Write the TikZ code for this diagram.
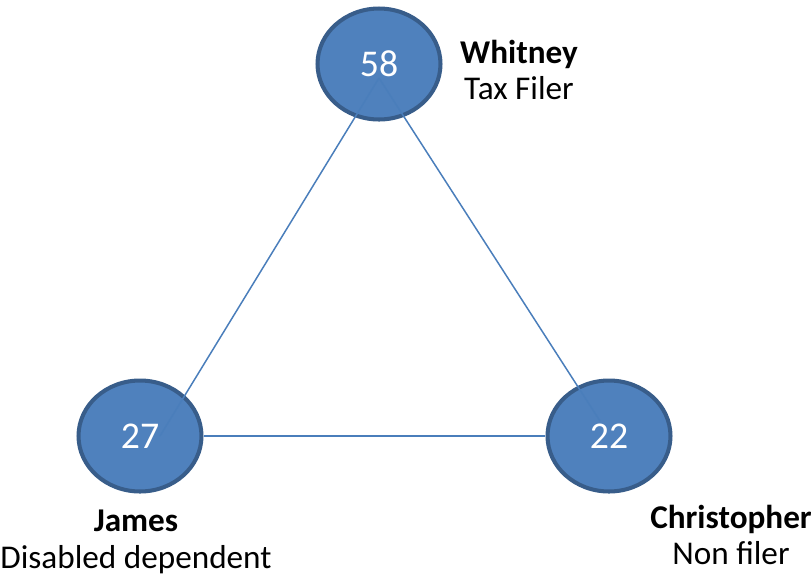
\documentclass[tikz,border=0pt]{standalone}
\usepackage{fontspec}
\setmainfont{Carlito}
\usetikzlibrary{positioning, calc, shapes.geometric}

\definecolor{nodefill}{HTML}{4F81BD}
\definecolor{nodeline}{HTML}{385D8A}
\definecolor{linkcol}{HTML}{4A7EBB}

\begin{document}
\begin{tikzpicture}[x=0.02cm, y=-0.02cm]
            \tikzset{
                person/.style={ellipse, draw=nodeline, fill=nodefill, line width=2.3pt, minimum width=2.46cm, minimum height=2.22cm, text=white, font=\fontsize{21.5}{25}\selectfont}, % krog za osebo
                link/.style={draw=linkcol, line width=0.85pt}, % povezava
                caption/.style={align=center, font=\fontsize{18.9}{21}\selectfont}, % ime in status
            }
            \useasboundingbox (0,0) rectangle (811,579);

            \node[person] (whitney) at (379,64) {58};
            \node[person] (james) at (140,436) {27};
            \node[person] (chris) at (609,436) {22};

            \node[caption] (whitneytxt) at (519,70) {\textbf{Whitney}\\Tax Filer};
            \node[caption] (jamestxt) at (136,542) {\textbf{James}\\Disabled dependent};
            \node[caption] (christxt) at (731,535) {\textbf{Christopher}\\Non filer};

            \draw[link] ([yshift=-0.28cm]whitney.center) -- ([xshift=0.4cm]james.center);
            \draw[link] ([yshift=-0.28cm]whitney.center) -- ([xshift=-0.18cm, yshift=0.3cm]chris.center);
            \draw[link] (james) -- (chris);
        \end{tikzpicture}
\end{document}
